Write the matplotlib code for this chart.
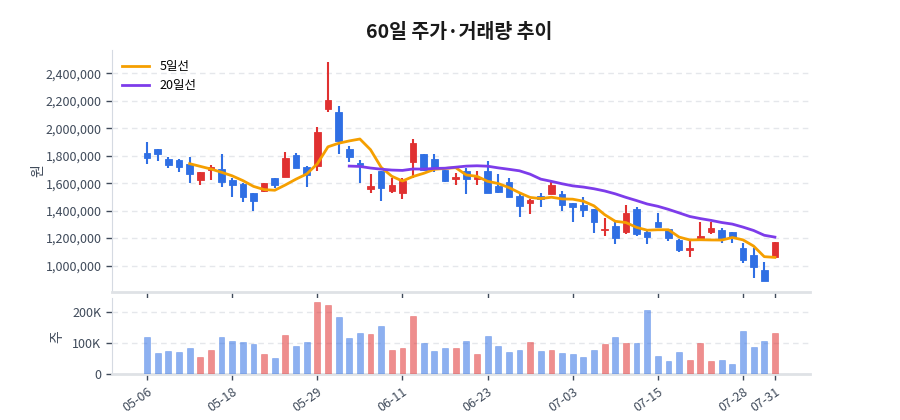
import numpy as np
import pandas as pd
import matplotlib
matplotlib.use("Agg")
import matplotlib.pyplot as plt
from matplotlib.ticker import FuncFormatter

plt.rcParams['font.family'] = ['Noto Sans CJK KR', 'DejaVu Sans']

# 60 trading days, prices in won
opens = [1822, 1852, 1774, 1767, 1737, 1623, 1696, 1701, 1623, 1594,
         1526, 1543, 1636, 1645, 1803, 1716, 1725, 2138, 2116, 1847,
         1750, 1555, 1689, 1543, 1531, 1757, 1810, 1774, 1696, 1628,
         1691, 1628, 1689, 1580, 1606, 1509, 1454, 1509, 1521, 1521,
         1458, 1444, 1410, 1257, 1288, 1242, 1410, 1242, 1320, 1267,
         1187, 1114, 1187, 1245, 1257, 1245, 1131, 1077, 968, 1065]
highs = [1898, 1852, 1793, 1779, 1788, 1684, 1733, 1810, 1636, 1604,
         1531, 1604, 1640, 1827, 1822, 1725, 2009, 2485, 2165, 1871,
         1769, 1670, 1689, 1640, 1636, 1920, 1810, 1810, 1696, 1672,
         1708, 1689, 1764, 1665, 1636, 1521, 1485, 1526, 1606, 1543,
         1458, 1502, 1410, 1349, 1320, 1441, 1424, 1252, 1386, 1267,
         1191, 1182, 1315, 1315, 1271, 1245, 1167, 1126, 1024, 1170]
lows = [1737, 1764, 1713, 1684, 1599, 1589, 1623, 1575, 1497, 1466,
        1400, 1534, 1563, 1645, 1708, 1575, 1691, 2121, 1810, 1752,
        1604, 1531, 1473, 1526, 1485, 1636, 1691, 1679, 1611, 1589,
        1519, 1589, 1526, 1526, 1502, 1356, 1376, 1429, 1519, 1400,
        1320, 1356, 1240, 1218, 1157, 1228, 1218, 1157, 1279, 1182,
        1102, 1065, 1182, 1230, 1162, 1162, 1022, 907, 890, 1065]
closes = [1781, 1813, 1730, 1716, 1670, 1684, 1716, 1611, 1587, 1497,
          1473, 1599, 1587, 1781, 1708, 1660, 1970, 2206, 1910, 1793,
          1730, 1580, 1563, 1587, 1619, 1895, 1696, 1708, 1619, 1648,
          1628, 1648, 1526, 1538, 1502, 1437, 1478, 1485, 1587, 1441,
          1427, 1405, 1315, 1267, 1199, 1381, 1230, 1211, 1284, 1199,
          1114, 1126, 1218, 1276, 1196, 1206, 1041, 992, 890, 1170]
volumes = [118.9, 68.1, 75.7, 71.4, 84.3, 56.2, 77.8, 121.1, 108.1, 103.8,
           97.3, 65.9, 51.9, 126.5, 91.9, 103.8, 231.4, 223.8, 184.9, 116.8,
           133.0, 129.7, 156.8, 77.8, 85.4, 189.2, 99.5, 75.7, 84.3, 84.3,
           107.0, 65.9, 124.3, 91.9, 72.4, 78.9, 104.9, 75.7, 78.9, 69.2,
           65.9, 56.2, 77.8, 97.3, 121.1, 101.6, 100.5, 207.6, 59.5, 41.1,
           72.4, 46.5, 100.5, 43.2, 45.4, 33.5, 139.5, 88.6, 107.0, 134.1]

tick_idx = [0, 8, 16, 24, 32, 40, 48, 56, 59]
tick_labels = ["05-06", "05-18", "05-29", "06-11", "06-23", "07-03", "07-15", "07-28", "07-31"]

df = pd.DataFrame({"open": opens, "high": highs, "low": lows,
                   "close": closes, "volume": volumes})
df[["open", "high", "low", "close"]] *= 1000
df["volume"] *= 1000
df["ma5"] = df["close"].rolling(5).mean()
df["ma20"] = df["close"].rolling(20).mean()

RED = "#e03131"
BLUE = "#2f6fe4"
GRID = "#e5e7eb"
SPINE = "#d5dae2"
TXT = "#3f4a5a"

fig = plt.figure(figsize=(9, 4.2), dpi=100)
ax = fig.add_axes([0.1244, 0.3055, 0.7756, 0.5755])
axv = fig.add_axes([0.1244, 0.1095, 0.7756, 0.1803], sharex=ax)

x = np.arange(len(df))
up = df["close"] >= df["open"]
colors = np.where(up, RED, BLUE)

# candles
ax.vlines(x, df["low"], df["high"], color=colors, linewidth=1.5, zorder=3)
body_lo = np.minimum(df["open"], df["close"])
body_h = np.maximum(np.abs(df["close"] - df["open"]), 4000)
ax.bar(x, body_h, bottom=body_lo, width=0.62, color=colors,
       edgecolor=colors, linewidth=0.6, zorder=4)

ax.plot(x, df["ma5"], color="#f59f00", linewidth=2, label="5일선", zorder=5)
ax.plot(x, df["ma20"], color="#7d3cea", linewidth=2, label="20일선", zorder=5)

ax.set_xlim(-3.3, 62.3)
ax.set_ylim(810000, 2570000)
ax.set_yticks(np.arange(1000000, 2400001, 200000))
ax.yaxis.set_major_formatter(FuncFormatter(lambda v, p: f"{int(v):,}"))
ax.set_ylabel("원", color=TXT, fontsize=10, labelpad=0)
ax.legend(loc="upper left", frameon=False, fontsize=9, handlelength=2.2,
          borderaxespad=0.4, labelspacing=0.5)

# volume
axv.bar(x, df["volume"], width=0.55, color=colors, alpha=0.55,
        edgecolor=colors, linewidth=0.4, zorder=3)
axv.set_ylim(0, 245000)
axv.set_yticks([0, 100000, 200000])
axv.yaxis.set_major_formatter(FuncFormatter(lambda v, p: "0" if v == 0 else f"{int(v/1000)}K"))
axv.set_ylabel("주", color=TXT, fontsize=10, labelpad=6)

axv.set_xticks(tick_idx)
axv.set_xticklabels(tick_labels, rotation=35, ha="right", rotation_mode="anchor")
plt.setp(ax.get_xticklabels(), visible=False)

for a in (ax, axv):
    a.grid(axis="y", linestyle=(0, (4, 3)), color=GRID, linewidth=1, zorder=0)
    a.set_axisbelow(True)
    for s in ("top", "right"):
        a.spines[s].set_visible(False)
    a.spines["left"].set_color(SPINE)
    a.spines["bottom"].set_color("#dfe2e6")
    a.spines["bottom"].set_linewidth(2)
    a.tick_params(axis="both", colors=TXT, labelsize=9, length=4, width=1)
    a.tick_params(axis="x", pad=4)

fig.suptitle("60일 주가·거래량 추이", x=0.51, y=0.945, fontsize=14, fontweight="bold", color="#1a1a1a")

fig.savefig("out.png", dpi=100)
